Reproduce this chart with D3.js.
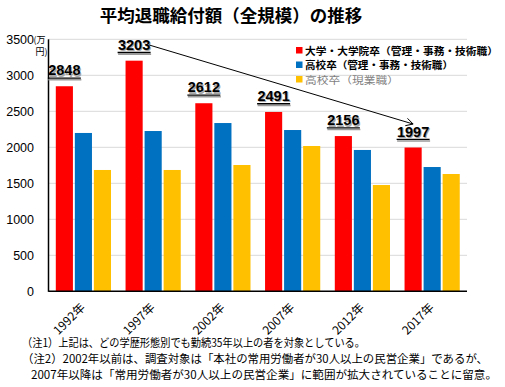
<!DOCTYPE html>
<html><head><meta charset="utf-8">
<script src="https://cdn.jsdelivr.net/npm/d3@7"></script>
<style>
html,body{margin:0;padding:0;background:#fff;}
svg{display:block;font-family:"Noto Sans CJK JP","Noto Sans",sans-serif;}
</style></head>
<body>
<svg id="chart" width="505" height="387"></svg>
<script>
const years = ["1992年","1997年","2002年","2007年","2012年","2017年"];
const seriesNames = ["大学・大学院卒（管理・事務・技術職）","高校卒（管理・事務・技術職）","高校卒（現業職）"];
const univValues = [2848, 3203, 2612, 2491, 2156, 1997];
const hsOfficeValues = [2199, 2226, 2337, 2240, 1963, 1726];
const hsManualValues = [1685, 1685, 1754, 2018, 1476, 1629];
const colors = ["#FF0000", "#0070C0", "#FFC000"];
const yTicks = [0, 500, 1000, 1500, 2000, 2500, 3000, 3500];
const title = "平均退職給付額（全規模）の推移";
const notes = [
  "（注1）上記は、どの学歴形態別でも勤続35年以上の者を対象としている。",
  "（注2）2002年以前は、調査対象は「本社の常用労働者が30人以上の民営企業」であるが、",
  "2007年以降は「常用労働者が30人以上の民営企業」に範囲が拡大されていることに留意。"
];
const allSeries = [univValues, hsOfficeValues, hsManualValues];

const svg = d3.select("#chart");
const L = 48.5, R = 467, T = 39.3, B = 291.3;

const x0 = d3.scaleBand().domain(years).range([L, R]);
const x1 = d3.scaleBand().domain([0,1,2]).range([7.3, 62.5]).paddingInner(0.1);
const y = d3.scaleLinear().domain([0, 3500]).range([B, T]);

// title
svg.append("text").attr("x", 231).attr("y", 22).attr("text-anchor", "middle")
  .attr("font-size", 17.5).attr("font-weight", "bold").attr("fill", "#000").text(title);

// gridlines
svg.append("g").selectAll("line").data(yTicks.filter(d => d > 0)).join("line")
  .attr("x1", L).attr("x2", R).attr("y1", d => y(d)).attr("y2", d => y(d))
  .attr("stroke", "#d9d9d9").attr("stroke-width", 1);

// y axis labels
const yAxis = d3.axisLeft(y).tickValues(yTicks).tickSize(0).tickPadding(0).tickFormat(d3.format("d"));
const yg = svg.append("g").attr("transform", `translate(34,0)`).call(yAxis);
yg.select(".domain").remove();
yg.selectAll("text").attr("font-size", 12.5).attr("fill", "#000")
  .attr("font-family", "'Liberation Sans', Arial, sans-serif");
svg.append("text").attr("x", 33.5).attr("y", y(3500) + 4).attr("font-size", 9).attr("fill", "#000").text("(万");
svg.append("text").attr("x", 35.5).attr("y", y(3500) + 16).attr("font-size", 9).attr("fill", "#000").text("円)");

// bars
const groups = svg.append("g").selectAll("g").data(years).join("g")
  .attr("transform", d => `translate(${x0(d)},0)`);
groups.selectAll("rect").data((d, i) => allSeries.map((s, k) => ({k, v: s[i]}))).join("rect")
  .attr("x", d => x1(d.k)).attr("width", x1.bandwidth())
  .attr("y", d => y(d.v)).attr("height", d => B - y(d.v))
  .attr("fill", d => colors[d.k]);

// axes lines
svg.append("line").attr("x1", L).attr("x2", L).attr("y1", T).attr("y2", B + 0.5).attr("stroke", "#000").attr("stroke-width", 1.5);
svg.append("line").attr("x1", L).attr("x2", R).attr("y1", B).attr("y2", B).attr("stroke", "#000").attr("stroke-width", 1.5);

// x labels
svg.append("g").selectAll("text").data(years).join("text")
  .attr("transform", d => `translate(${x0(d) + x0.bandwidth()/2 + 2.5},${B + 17}) rotate(-45)`)
  .attr("text-anchor", "end").attr("font-size", 12).attr("fill", "#000").text(d => d);

// value labels
const lab = svg.append("g");
const labels = univValues.map((v, i) => ({v, cx: x0(years[i]) + x1(0) + x1.bandwidth()/2, by: y(v) - 11}));
labels.forEach(d => {
  const f = "'Liberation Sans', Arial, sans-serif";
  lab.append("text").attr("x", d.cx + 1).attr("y", d.by + 1.5).attr("text-anchor", "middle")
    .attr("font-family", f).attr("font-size", 14.5).attr("font-weight", "bold").attr("fill", "#a6a6a6").text(d.v);
  lab.append("line").attr("x1", d.cx - 16).attr("x2", d.cx + 17).attr("y1", d.by + 4.5).attr("y2", d.by + 4.5)
    .attr("stroke", "#9a9a9a").attr("stroke-width", 1.6);
  lab.append("text").attr("x", d.cx).attr("y", d.by).attr("text-anchor", "middle")
    .attr("font-family", f).attr("font-size", 14.5).attr("font-weight", "bold").attr("fill", "#000").text(d.v);
  lab.append("line").attr("x1", d.cx - 16.5).attr("x2", d.cx + 16.5).attr("y1", d.by + 2.8).attr("y2", d.by + 2.8)
    .attr("stroke", "#000").attr("stroke-width", 1.3);
});

// arrow from max to last
const a = labels[1], b = labels[5];
const sx = a.cx + 15, sy = a.by - 4.7, ex = b.cx, ey = b.by - 12.5;
svg.append("line").attr("x1", sx).attr("y1", sy).attr("x2", ex).attr("y2", ey).attr("stroke", "#000").attr("stroke-width", 1);
const ang = Math.atan2(ey - sy, ex - sx);
[-0.5, 0.5].forEach(o => {
  svg.append("line").attr("x1", ex).attr("y1", ey)
    .attr("x2", ex - 8 * Math.cos(ang + o)).attr("y2", ey - 8 * Math.sin(ang + o))
    .attr("stroke", "#000").attr("stroke-width", 1);
});

// legend
const legY = [50.5, 65, 79.5];
const legW = [193, 148, 94];
const lg = svg.append("g");
seriesNames.forEach((n, i) => {
  lg.append("rect").attr("x", 296).attr("y", legY[i] - 3.5).attr("width", 6.5).attr("height", 6.5).attr("fill", colors[i]);
  lg.append("text").attr("x", 305).attr("y", legY[i] + 4).attr("font-size", 10)
    .attr("font-weight", i < 2 ? "bold" : "normal").attr("fill", i < 2 ? "#000" : "#7f7f7f")
    .attr("textLength", legW[i]).attr("lengthAdjust", "spacingAndGlyphs").text(n);
});

// notes
const noteX = [22, 22, 31], noteY = [347, 363, 379], noteW = [343, 466, 466];
notes.forEach((t, i) => {
  svg.append("text").attr("x", noteX[i]).attr("y", noteY[i]).attr("font-size", 11.5).attr("fill", "#000")
    .attr("textLength", noteW[i]).attr("lengthAdjust", "spacingAndGlyphs").text(t);
});
</script>
</body></html>
